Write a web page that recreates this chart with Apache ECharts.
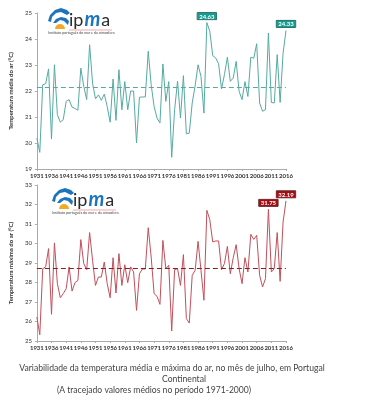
<!DOCTYPE html>
<html><head><meta charset="utf-8">
<script src="https://cdn.jsdelivr.net/npm/echarts@6/dist/echarts.min.js"></script>
<style>html,body{margin:0;padding:0;background:#fff}#c{width:373px;height:400px}</style>
</head><body><div id="c"></div>
<script>
const years = [];
for (let y = 1931; y <= 2016; y++) years.push(String(y));

const meanTemp = [
  20.19, 19.64, 22.24, 22.28, 22.85, 20.15, 23.01, 21.09, 20.80, 20.90,
  21.60, 21.67, 21.38, 21.33, 21.26, 22.88, 22.18, 21.67, 23.78, 22.30,
  21.70, 21.85, 21.64, 21.88, 21.40, 20.80, 22.46, 20.87, 22.82, 21.28,
  22.36, 21.28, 22.00, 22.00, 20.00, 21.76, 21.77, 21.77, 23.53, 22.24,
  21.40, 20.96, 20.77, 23.04, 21.60, 22.36, 19.45, 21.28, 22.38, 20.96,
  22.59, 20.35, 20.38, 21.54, 22.20, 23.01, 22.56, 21.15, 24.63, 24.30,
  23.36, 23.27, 23.05, 22.08, 22.63, 23.30, 22.37, 22.50, 23.14, 21.99,
  21.67, 22.36, 21.79, 23.30, 23.26, 23.82, 21.54, 21.22, 21.28, 24.23,
  21.56, 21.54, 23.40, 21.56, 23.45, 24.33
];
const maxTemp = [
  26.23, 25.32, 28.71, 28.80, 29.74, 26.37, 30.03, 27.94, 27.22, 27.43,
  27.68, 28.80, 27.56, 27.99, 28.11, 30.20, 28.97, 28.66, 30.56, 29.14,
  27.85, 28.28, 28.28, 29.05, 27.94, 27.22, 29.27, 27.46, 29.48, 27.85,
  28.91, 27.99, 28.80, 28.54, 26.57, 28.45, 28.69, 28.69, 30.81, 29.31,
  27.43, 27.29, 26.88, 30.16, 28.71, 28.88, 25.51, 28.66, 28.71, 27.85,
  29.43, 26.15, 25.92, 28.37, 28.62, 30.11, 28.62, 27.09, 31.70, 31.22,
  30.08, 30.13, 30.13, 28.66, 28.97, 29.85, 28.45, 29.27, 29.94, 28.71,
  27.94, 29.27, 28.54, 30.47, 30.21, 30.42, 28.37, 27.77, 28.20, 31.75,
  28.54, 28.71, 30.56, 28.06, 31.10, 32.19
];
const meanNormal = 22.15;   // 1971-2000
const maxNormal = 28.71;    // 1971-2000
const meanHighlightYears = ['1989', '2016'];
const maxHighlightYears = ['2010', '2016'];
const meanAxisName = 'Temperatura média do ar (°C)';
const maxAxisName = 'Temperatura máxima do ar (°C)';
const captionLines = [
  'Variabilidade da temperatura média e máxima do ar, no mês de julho, em Portugal',
  'Continental',
  '(A tracejado valores médios no período 1971-2000)'
];

const FONT = 'Lato, "Open Sans", sans-serif';
const teal = '#56aaa2', tealDark = '#139c90';
const red = '#c0505a', redDark = '#a30d14';

function mkMarks(vals, hl, bg) {
  return {
    silent: true,
    symbol: 'rect', symbolSize: 0,
    label: {
      show: true, position: 'top', distance: 3,
      formatter: p => Number(p.value).toFixed(2),
      backgroundColor: bg, color: '#fff', fontSize: 6, fontWeight: 'bold',
      fontFamily: FONT, padding: [1, 2, 0, 2], borderColor: '#444', borderWidth: 0.5
    },
    data: hl.map(y => {
      const i = years.indexOf(y);
      return { coord: [y, vals[i]], value: vals[i] };
    })
  };
}

function xAxis(gi) {
  return {
    gridIndex: gi, type: 'category', data: years, boundaryGap: false,
    axisLine: { lineStyle: { color: '#aaa', width: 1 } },
    axisTick: { interval: 4, length: 2, lineStyle: { color: '#aaa' } },
    axisLabel: { interval: 4, fontSize: 6, color: '#333', fontWeight: 'bold', fontFamily: FONT, margin: 4, showMaxLabel: true },
    splitLine: { show: false }
  };
}
function yAxis(gi, min, max, name) {
  return {
    gridIndex: gi, type: 'value', min: min, max: max, interval: 1,
    name: name, nameLocation: 'middle', nameGap: 15, nameRotate: 90,
    nameTextStyle: { fontSize: 6, color: '#333', fontWeight: 'bold', fontFamily: FONT },
    axisLine: { show: true, lineStyle: { color: '#aaa', width: 1 } },
    axisTick: { show: true, length: 2, lineStyle: { color: '#aaa' } },
    axisLabel: { fontSize: 6, color: '#333', fontFamily: FONT, margin: 5 },
    splitLine: { show: false }
  };
}

function logo(x, y) {
  return {
    type: 'group', x: x, y: y, children: [
      { type: 'polygon', shape: { points: [[0,13],[2,7],[7,2],[13,0],[19,2],[22,5],[19,7],[13,4],[8,5],[4,9],[3,14]] }, style: { fill: '#1c75bc' } },
      { type: 'polygon', shape: { points: [[5,15],[8,11],[13,9],[18,10],[21,13],[20,17],[16,13],[12,12],[8,15]] }, style: { fill: '#1c75bc' } },
      { type: 'sector', shape: { cx: 12, cy: 21, r: 5, r0: 0, startAngle: Math.PI, endAngle: 2 * Math.PI }, style: { fill: '#f4a82a' } },
      { type: 'text', x: 21, y: 2, style: { text: '{a|ip}{b|m}{a|a}', rich: {
        a: { fontSize: 18, fontFamily: FONT, fill: '#2b2b2b' },
        b: { fontSize: 20, fontFamily: FONT, fill: '#1c75bc', fontStyle: 'italic', fontWeight: 'bold', padding: [0, 1, 0, 1] } } } },
      { type: 'text', x: 0, y: 23, style: { text: 'Instituto português do mar e da atmosfera', fontSize: 3.6, fill: '#444', fontFamily: FONT } },
      { type: 'line', shape: { x1: 21, y1: 22, x2: 64, y2: 22 }, style: { stroke: '#d9534f', lineWidth: 0.5 } }
    ]
  };
}

const chart = echarts.init(document.getElementById('c'), null, { renderer: 'canvas' });
chart.setOption({
  animation: false,
  backgroundColor: '#fff',
  grid: [
    { left: 29, top: 13, width: 257, height: 156 },
    { left: 29, top: 185, width: 257, height: 156 }
  ],
  xAxis: [xAxis(0), xAxis(1)],
  yAxis: [yAxis(0, 19, 25, meanAxisName), yAxis(1, 25, 33, maxAxisName)],
  series: [
    {
      type: 'line', xAxisIndex: 0, yAxisIndex: 0, data: meanTemp,
      symbol: 'none', lineStyle: { color: teal, width: 1 }, itemStyle: { color: teal },
      markLine: { silent: true, symbol: 'none', label: { show: false },
        lineStyle: { color: teal, type: [5, 3], width: 1 }, data: [{ yAxis: meanNormal }] },
      markPoint: mkMarks(meanTemp, meanHighlightYears, tealDark)
    },
    {
      type: 'line', xAxisIndex: 1, yAxisIndex: 1, data: maxTemp,
      symbol: 'none', lineStyle: { color: red, width: 1 }, itemStyle: { color: red },
      markLine: { silent: true, symbol: 'none', label: { show: false },
        lineStyle: { color: '#8a1c22', type: [5, 3], width: 1 }, data: [{ yAxis: maxNormal }] },
      markPoint: mkMarks(maxTemp, maxHighlightYears, redDark)
    }
  ],
  graphic: [
    logo(48, 8),
    logo(52, 188),
    { type: 'text', x: 172, y: 364, style: { text: captionLines[0], fontSize: 8.6, fill: '#444', fontFamily: FONT, align: 'center' } },
    { type: 'text', x: 184, y: 375, style: { text: captionLines[1], fontSize: 8.6, fill: '#444', fontFamily: FONT, align: 'center' } },
    { type: 'text', x: 154, y: 386, style: { text: captionLines[2], fontSize: 8.6, fill: '#444', fontFamily: FONT, align: 'center' } }
  ]
});
</script></body></html>
